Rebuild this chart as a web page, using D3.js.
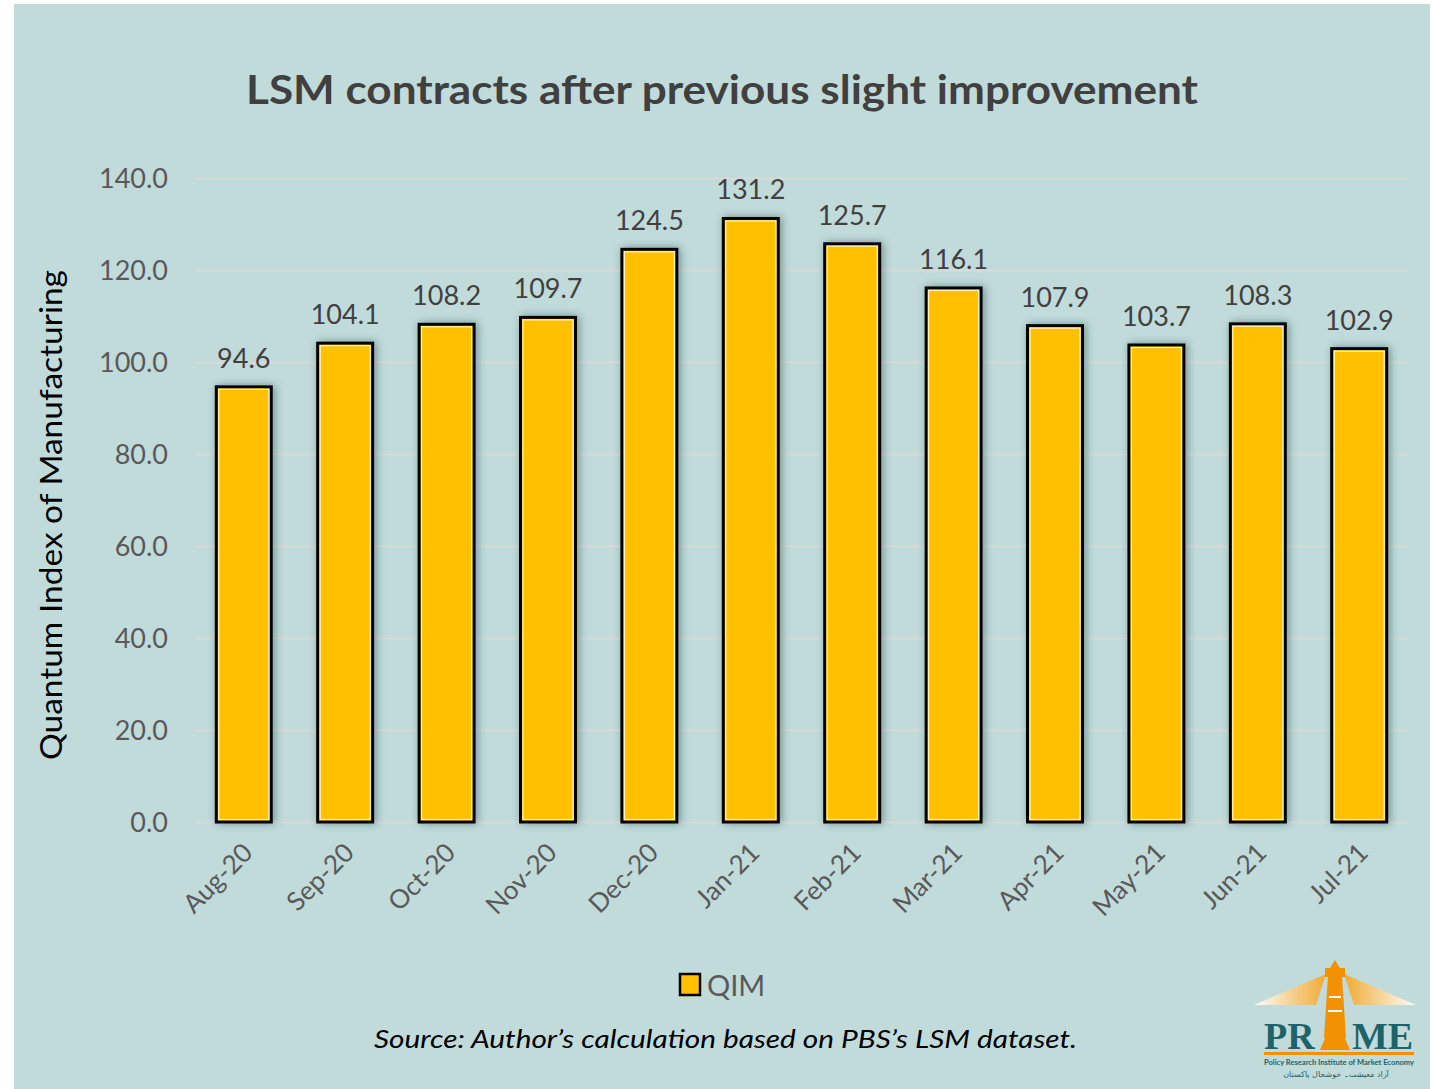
<!DOCTYPE html>
<html>
<head>
<meta charset="utf-8">
<script src="https://cdn.jsdelivr.net/npm/d3@7"></script>
<style>
  body { margin: 0; background: #fff; }
  svg { display: block; }
</style>
</head>
<body>
<svg id="chart" width="1435" height="1089"></svg>
<script>
'use strict';
const MONTHS = ['Aug-20', 'Sep-20', 'Oct-20', 'Nov-20', 'Dec-20', 'Jan-21',
  'Feb-21', 'Mar-21', 'Apr-21', 'May-21', 'Jun-21', 'Jul-21'];
const QIM = [94.6, 104.1, 108.2, 109.7, 124.5, 131.2, 125.7, 116.1, 107.9, 103.7, 108.3, 102.9];
const Y_TICKS = [0, 20, 40, 60, 80, 100, 120, 140];

const FONT = 'Lato, "Open Sans", sans-serif';
const BG = '#c1dbdb';
const BAR = '#ffc000';

drawChart();

function drawChart() {
  const svg = d3.select('#chart');
  const margin = { top: 178, right: 27, bottom: 267, left: 195 };
  const width = 1435, height = 1089;

  svg.append('rect')
    .attr('x', 14).attr('y', 4)
    .attr('width', 1416).attr('height', 1085)
    .attr('fill', BG);

  const defs = svg.append('defs');
  defs.append('filter')
    .attr('id', 'shadow')
    .attr('x', '-30%').attr('y', '-10%')
    .attr('width', '160%').attr('height', '120%')
    .append('feDropShadow')
    .attr('dx', 2).attr('dy', 0)
    .attr('stdDeviation', 4)
    .attr('flood-color', '#1d3535')
    .attr('flood-opacity', 0.45);

  // title
  svg.append('text')
    .attr('x', 722).attr('y', 104)
    .attr('text-anchor', 'middle')
    .attr('textLength', 952)
    .attr('lengthAdjust', 'spacingAndGlyphs')
    .style('font-family', FONT)
    .style('font-weight', 'bold')
    .style('font-size', '41px')
    .style('fill', '#404040')
    .text('LSM contracts after previous slight improvement');

  const x = d3.scaleBand()
    .domain(MONTHS)
    .range([margin.left, width - margin.right])
    .paddingInner(0.458)
    .paddingOuter(0.21);

  const y = d3.scaleLinear()
    .domain([0, 140])
    .range([height - margin.bottom, margin.top]);

  // Y-Axis
  const yAxis = (g) =>
    g
      .call(d3.axisRight(y).tickValues(Y_TICKS)
        .tickSize(width - margin.right - margin.left)
        .tickFormat(d3.format('.1f')))
      .call((g) => g.select('.domain').remove())
      .call((g) => g.selectAll('.tick line')
        .attr('stroke', '#d9d9d9')
        .attr('stroke-width', 2))
      .call((g) => g.selectAll('.tick text')
        .attr('x', -27)
        .attr('dy', '0.35em')
        .attr('text-anchor', 'end')
        .style('font-family', FONT)
        .style('font-size', '27px')
        .attr('fill', '#595959'));

  svg.append('g')
    .attr('transform', `translate(${margin.left},0)`)
    .call(yAxis);

  svg.append('text')
    .attr('transform', `translate(62,515) rotate(-90)`)
    .attr('text-anchor', 'middle')
    .attr('textLength', 490)
    .attr('lengthAdjust', 'spacingAndGlyphs')
    .style('font-family', FONT)
    .style('font-size', '31px')
    .style('fill', '#000')
    .text('Quantum Index of Manufacturing');

  // bars
  const bars = svg.append('g')
    .selectAll('g')
    .data(QIM)
    .enter()
    .append('g');

  bars.append('rect')
    .attr('x', (d, i) => x(MONTHS[i]))
    .attr('y', (d) => y(d))
    .attr('width', x.bandwidth())
    .attr('height', (d) => y(0) - y(d))
    .attr('fill', BAR)
    .attr('stroke', '#000')
    .attr('stroke-width', 3)
    .attr('filter', 'url(#shadow)');

  bars.append('rect')
    .attr('x', (d, i) => x(MONTHS[i]) + 2.5)
    .attr('y', (d) => y(d) + 2.5)
    .attr('width', x.bandwidth() - 5)
    .attr('height', (d) => y(0) - y(d) - 5)
    .attr('fill', 'none')
    .attr('stroke', '#fff2c0')
    .attr('stroke-width', 1.2);

  bars.append('text')
    .attr('x', (d, i) => x(MONTHS[i]) + x.bandwidth() / 2)
    .attr('y', (d) => y(d) - 19)
    .attr('text-anchor', 'middle')
    .style('font-family', FONT)
    .style('font-size', '27px')
    .style('fill', '#404040')
    .text((d) => d3.format('.1f')(d));

  // X-Axis labels
  svg.append('g')
    .selectAll('text')
    .data(MONTHS)
    .enter()
    .append('text')
    .attr('transform', (d) =>
      `translate(${x(d) + x.bandwidth() / 2 + 4},${y(0) + 26}) rotate(-45)`)
    .attr('text-anchor', 'end')
    .attr('dy', '0.35em')
    .style('font-family', FONT)
    .style('font-size', '26px')
    .style('fill', '#595959')
    .text((d) => d);

  // legend
  svg.append('rect')
    .attr('x', 680).attr('y', 974)
    .attr('width', 20).attr('height', 21)
    .attr('fill', BAR)
    .attr('stroke', '#000')
    .attr('stroke-width', 2.5);
  svg.append('text')
    .attr('x', 707).attr('y', 996)
    .style('font-family', FONT)
    .style('font-size', '29px')
    .style('fill', '#595959')
    .text('QIM');

  // source
  svg.append('text')
    .attr('x', 374).attr('y', 1048)
    .attr('textLength', 703)
    .attr('lengthAdjust', 'spacingAndGlyphs')
    .style('font-family', FONT)
    .style('font-style', 'italic')
    .style('font-size', '26px')
    .style('fill', '#000')
    .text('Source: Author\u2019s calculation based on PBS\u2019s LSM dataset.');

  drawLogo(svg, defs);
}

function drawLogo(svg, defs) {
  const g = svg.append('g').attr('transform', 'translate(1254,958)');
  const grad = defs.append('linearGradient').attr('id', 'beam')
    .attr('x1', '0').attr('x2', '1').attr('y1', '0').attr('y2', '0');
  grad.append('stop').attr('offset', '0%').attr('stop-color', '#f5a623').attr('stop-opacity', 0.9);
  grad.append('stop').attr('offset', '100%').attr('stop-color', '#ffffff').attr('stop-opacity', 0.95);
  const gradL = defs.append('linearGradient').attr('id', 'beamL')
    .attr('x1', '1').attr('x2', '0').attr('y1', '0').attr('y2', '0');
  gradL.append('stop').attr('offset', '0%').attr('stop-color', '#f5a623').attr('stop-opacity', 0.9);
  gradL.append('stop').attr('offset', '100%').attr('stop-color', '#ffffff').attr('stop-opacity', 0.95);

  g.append('path').attr('d', 'M72,16 L0,47 L62,47 Z').attr('fill', 'url(#beamL)');
  g.append('path').attr('d', 'M90,16 L162,47 L100,47 Z').attr('fill', 'url(#beam)');
  g.append('path').attr('d', 'M74,18 L88,18 L92,80 L70,80 Z').attr('fill', '#f39200');
  g.append('rect').attr('x', 71).attr('y', 10).attr('width', 20).attr('height', 9).attr('fill', '#f39200');
  g.append('path').attr('d', 'M76,10 L81,2 L86,10 Z').attr('fill', '#f39200');
  g.append('rect').attr('x', 75).attr('y', 38).attr('width', 12).attr('height', 2).attr('fill', '#fff');
  g.append('rect').attr('x', 74).attr('y', 52).attr('width', 14).attr('height', 2).attr('fill', '#fff');
  g.append('path').attr('d', 'M66,92 L96,92 L90,78 L72,78 Z').attr('fill', '#f39200');

  g.append('text').attr('x', 10).attr('y', 91)
    .style('font-family', '"Liberation Serif", serif').style('font-weight', 'bold')
    .style('font-size', '38px').style('fill', '#1d6369').text('PR');
  g.append('text').attr('x', 98).attr('y', 91)
    .style('font-family', '"Liberation Serif", serif').style('font-weight', 'bold')
    .style('font-size', '38px').style('fill', '#1d6369').text('ME');
  g.append('rect').attr('x', 10).attr('y', 94).attr('width', 150).attr('height', 3).attr('fill', '#f39200');
  g.append('text').attr('x', 85).attr('y', 107).attr('text-anchor', 'middle')
    .attr('textLength', 150).attr('lengthAdjust', 'spacingAndGlyphs')
    .style('font-family', FONT).style('font-weight', 'bold')
    .style('font-size', '7px').style('fill', '#1d6369')
    .text('Policy Research Institute of Market Economy');
  g.append('text').attr('x', 82).attr('y', 119).attr('text-anchor', 'middle')
    .style('font-family', '"DejaVu Sans", sans-serif')
    .style('font-size', '8px').style('fill', '#1d6369')
    .text('آزاد معیشت۔ خوشحال پاکستان');
}
</script>
</body>
</html>
